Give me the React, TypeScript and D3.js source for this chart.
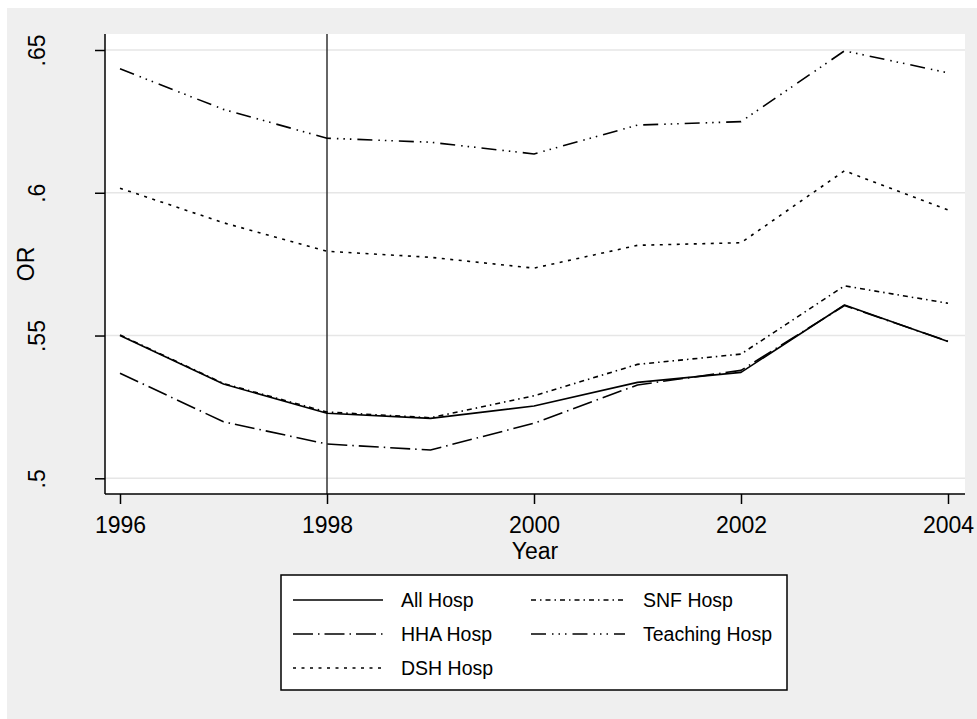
import React, { useEffect, useRef } from 'react';
import * as d3 from 'd3';

// odds ratios by year
const years = [1996, 1997, 1998, 1999, 2000, 2001, 2002, 2003, 2004];
const allHosp = [0.550, 0.533, 0.5228, 0.521, 0.5253, 0.5336, 0.5371, 0.5607, 0.5479];
const snfHosp = [0.5502, 0.5332, 0.5232, 0.5212, 0.5289, 0.5399, 0.5435, 0.5674, 0.5613];
const hhaHosp = [0.5368, 0.5198, 0.512, 0.5099, 0.5193, 0.5327, 0.5378, 0.5605, 0.548];
const teachingHosp = [0.6434, 0.6292, 0.6191, 0.6177, 0.6136, 0.6237, 0.6249, 0.6497, 0.642];
const dshHosp = [0.6016, 0.5895, 0.5795, 0.5774, 0.5736, 0.5816, 0.5825, 0.6077, 0.594];

const seriesNames = ['All Hosp', 'SNF Hosp', 'HHA Hosp', 'Teaching Hosp', 'DSH Hosp'];
const seriesValues = [allHosp, snfHosp, hhaHosp, teachingHosp, dshHosp];

const xTicks = [1996, 1998, 2000, 2002, 2004];
const yTicks = [0.5, 0.55, 0.6, 0.65];
const yTickLabels = ['.5', '.55', '.6', '.65'];
const refYear = 1998;
const xTitle = 'Year';
const yTitle = 'OR';

const W = 977;
const H = 719;
const FONT = '"Liberation Sans", Arial, Helvetica, sans-serif';

// stata-ish line patterns, same order as seriesNames
const dashes = ['', '5,4,1.5,4', '20,5,1.5,5', '15,6,1.5,5,1.5,5,1.5,6', '3,5.5'];

const App = () => {
  const ref = useRef<SVGSVGElement>(null);

  useEffect(() => {
    const svg = d3.select(ref.current);
    svg.selectAll('*').remove();

    const plot = { left: 105, right: 965, top: 34, bottom: 494 };

    const x = d3.scaleLinear().domain([1996, 2004]).range([120, 948]);
    const y = d3.scaleLinear().domain([0.5, 0.65]).range([478.3, 50]);

    // graph region
    svg.append('rect')
      .attr('x', 7).attr('y', 8)
      .attr('width', W - 7).attr('height', H - 8)
      .attr('fill', '#efefef');

    // plot region
    svg.append('rect')
      .attr('x', plot.left).attr('y', plot.top)
      .attr('width', plot.right - plot.left).attr('height', plot.bottom - plot.top)
      .attr('fill', '#ffffff');

    // gridlines
    svg.append('g').selectAll('line')
      .data(yTicks)
      .enter().append('line')
      .attr('x1', plot.left).attr('x2', plot.right)
      .attr('y1', d => y(d)).attr('y2', d => y(d))
      .attr('stroke', '#e6e6e6')
      .attr('stroke-width', 1.5);

    // reference line at 1998
    svg.append('line')
      .attr('x1', x(refYear)).attr('x2', x(refYear))
      .attr('y1', plot.top).attr('y2', plot.bottom)
      .attr('stroke', '#333333')
      .attr('stroke-width', 1.5);

    const lineGen = d3.line<number>()
      .x((d, i) => x(years[i]))
      .y(d => y(d));

    seriesValues.forEach((vals, i) => {
      svg.append('path')
        .attr('d', lineGen(vals))
        .attr('fill', 'none')
        .attr('stroke', '#000')
        .attr('stroke-width', 1.6)
        .attr('stroke-dasharray', dashes[i] || null)
        .attr('stroke-linejoin', 'round');
    });

    // axis lines
    svg.append('line')
      .attr('x1', plot.left).attr('x2', plot.left)
      .attr('y1', plot.top).attr('y2', plot.bottom)
      .attr('stroke', '#000').attr('stroke-width', 1.5);
    svg.append('line')
      .attr('x1', plot.left).attr('x2', plot.right)
      .attr('y1', plot.bottom).attr('y2', plot.bottom)
      .attr('stroke', '#000').attr('stroke-width', 1.5);

    // x axis
    const gx = svg.append('g')
      .attr('transform', `translate(0,${plot.bottom})`)
      .call(d3.axisBottom(x).tickValues(xTicks).tickSize(10).tickSizeOuter(0).tickFormat(d3.format('d')));
    gx.select('.domain').remove();
    gx.selectAll('.tick line').attr('stroke', '#000').attr('stroke-width', 1.5);
    gx.selectAll('.tick text')
      .attr('y', 39).attr('dy', null)
      .attr('fill', '#000')
      .style('font-family', FONT).style('font-size', '23px');

    // y axis
    const gy = svg.append('g')
      .attr('transform', `translate(${plot.left},0)`)
      .call(d3.axisLeft(y).tickValues(yTicks).tickSize(10).tickSizeOuter(0)
        .tickFormat((d, i) => yTickLabels[i]));
    gy.select('.domain').remove();
    gy.selectAll('.tick line').attr('stroke', '#000').attr('stroke-width', 1.5);
    gy.selectAll('.tick text')
      .attr('x', null).attr('dy', null)
      .attr('transform', 'translate(-60,0) rotate(-90)')
      .attr('text-anchor', 'middle')
      .attr('fill', '#000')
      .style('font-family', FONT).style('font-size', '23px');

    // axis titles
    svg.append('text')
      .attr('x', (plot.left + plot.right) / 2).attr('y', 559)
      .attr('text-anchor', 'middle')
      .style('font-family', FONT).style('font-size', '23px')
      .text(xTitle);
    svg.append('text')
      .attr('transform', `translate(34,${(plot.top + plot.bottom) / 2}) rotate(-90)`)
      .attr('text-anchor', 'middle')
      .style('font-family', FONT).style('font-size', '23px')
      .text(yTitle);

    // legend
    const lg = svg.append('g');
    lg.append('rect')
      .attr('x', 281).attr('y', 575)
      .attr('width', 506).attr('height', 115)
      .attr('fill', '#fff')
      .attr('stroke', '#000')
      .attr('stroke-width', 1.5);

    const colX = [293, 531];
    const sampleLen = [90, 94];
    seriesNames.forEach((name, i) => {
      const col = i % 2;
      const row = Math.floor(i / 2);
      const cy = 600 + row * 34;
      lg.append('line')
        .attr('x1', colX[col]).attr('x2', colX[col] + sampleLen[col])
        .attr('y1', cy).attr('y2', cy)
        .attr('stroke', '#000')
        .attr('stroke-width', 1.6)
        .attr('stroke-dasharray', dashes[i] || null);
      lg.append('text')
        .attr('x', colX[col] + sampleLen[col] + 18)
        .attr('y', cy + 7)
        .style('font-family', FONT).style('font-size', '19.5px')
        .text(name);
    });
  }, []);

  return (
    <svg
      ref={ref}
      width={W}
      height={H}
      style={{ position: 'absolute', left: 0, top: 0, display: 'block' }}
    />
  );
};

export default App;
